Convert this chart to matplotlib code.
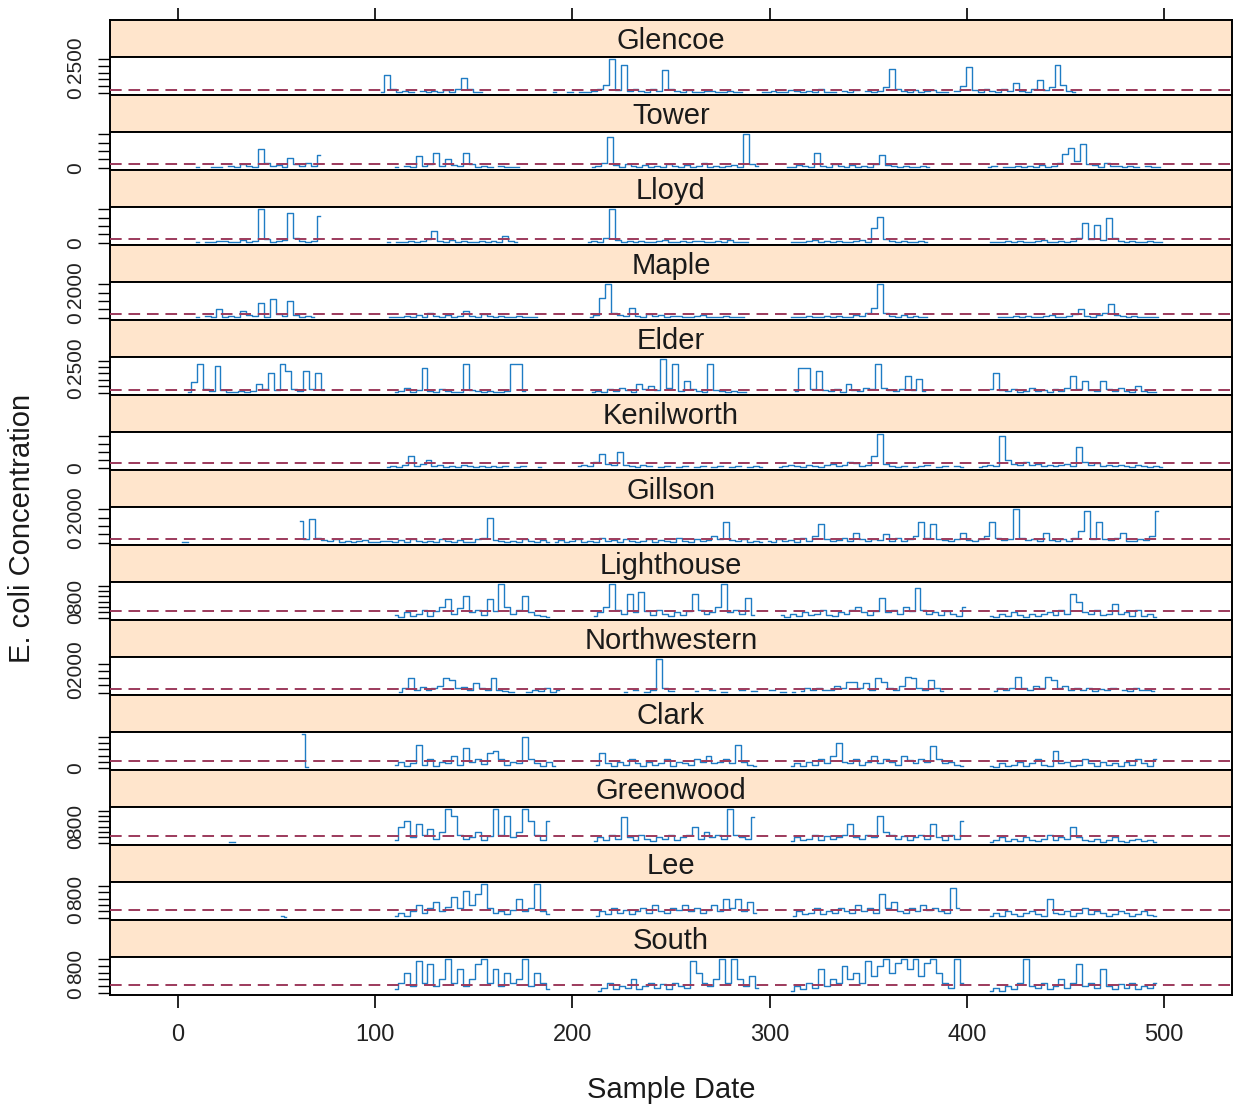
import numpy as np
import matplotlib
matplotlib.use("Agg")
import matplotlib.pyplot as plt

N = None  # missing sample

sites = ["Glencoe", "Tower", "Lloyd", "Maple", "Elder", "Kenilworth", "Gillson",
         "Lighthouse", "Northwestern", "Clark", "Greenwood", "Lee", "South"]

# each site: list of (first sample index, concentrations every 3 samples)
glencoe = [
    (103, [60, 1300, 250, 40, 90, 30, N, 120, 60, 150, 40, 200, 80, 250, 1100, 300, 60, 30]),
    (190, [40, N, N, 60, N, 30, 80, 150, 300, 600, 2500, 200, 2100, 150, 300, 100, 60, 250, 100, 1700,
           300, 150, 80, 200, 60, 40, 150, 90, 30, 60, 120, 40, 30]),
    (296, [80, 30, 150, 60, 40, 200, 90, 30, 120, 60, 250, 80, 40, N, 150, 60, 200, N, 90, 30,
           150, 400, 1800, 250, 100, 60, 180, 40, 90, 200, 60, 30, N, 150, 500, 1950, 200, 80, 300, 120,
           60, 250, 100, 700, 150, 80, 300, 950, 200, 400, 2100, 600, 150, 80]),
]
tower = [
    (9, [40, N, N, 60, 30, N, 100, 50, 200, 80, 60, 1100, 250, 90, 150, 60, 600, 200, 80, 300, 120, 750]),
    (110, [50, N, 120, 40, 700, 90, 200, 850, 100, 500, 150, 80, 900, 200, 60, 100, 40, N, 80, 30, 60, 40]),
    (210, [40, 80, 300, 1850, 150, 60, 200, 90, 40, 150, 60, 100, 30, 200, 80, 60, 150, 40, 90, 250,
           60, 120, 40, 80, 150, 60, 2000, 200, 80]),
    (309, [60, 30, 150, 80, 40, 900, 120, 60, 200, 90, 40, 150, 60, 100, 30, 200, 750, 150, 80, 40,
           120, 60, 30, 90, 40]),
    (411, [40, 80, N, 30, 60, 120, 40, 80, 30, 150, 60, 100, 300, 800, 1200, 400, 1400, 200, 150, 60,
           250, 80, 120, 40, 90, 60, N, 80, 40, 30]),
]
lloyd = [
    (9, [30, N, 60, 40, 120, 80, 30, 60, 150, 40, 90, 2000, 200, 60, 80, 150, 1750, 250, 100, 60, 120, 1600]),
    (106, [40, N, 30, 60, 120, 40, 80, 200, 700, 100, 60, 150, 40, 90, 30, 60, 120, 40, 80, 30, 400, 90, 40]),
    (208, [30, 80, 60, 300, 2000, 150, 60, 100, 40, 120, 60, 30, 90, 150, 40, 60, 100, 30, 80, 120,
           40, 60, 90, 30, 150, 60, 40, 30]),
    (311, [40, 60, 30, 90, 150, 40, 80, 30, 120, 60, 40, 80, 150, 60, 900, 1550, 200, 90, 40, 120, 60, 30, 80, 40]),
    (412, [30, 60, 40, 90, 30, 120, 60, 40, 80, 150, 60, 30, 90, 40, 120, 300, 1150, 200, 1050, 150,
           1500, 250, 80, 40, 120, 60, 30, 80, 40, 30]),
]
maple = [
    (9, [40, N, 80, 30, 500, 60, 120, 40, 400, 150, 80, 900, 60, 1100, 200, 80, 1000, 150, 60, 120, 40]),
    (107, [40, 60, 30, 120, 60, 150, 40, 300, 80, 60, 150, 40, 90, 400, 100, 60, 200, 80, 40, 120,
           60, 30, 90, 40, 60, 30]),
    (209, [60, 150, 1200, 2000, 300, 150, 80, 600, 120, 60, 200, 90, 150, 40, 80, 120, 60, 30, 90, 150,
           40, 60, 30, 80, 40, 60, 30]),
    (311, [30, 60, 40, 90, 30, 60, 120, 40, 80, 30, 60, 150, 80, 300, 600, 2000, 250, 120, 60, 150, 40, 80, 30, 60]),
    (416, [40, 60, 30, 90, 40, 120, 60, 30, 80, 150, 60, 40, 90, 200, 500, 120, 60, 150, 300, 800,
           150, 80, 40, 120, 60, 30, 60, 30]),
]
elder = [
    (5, [60, 800, 2200, 300, 150, 2100, 200, 90, 60, 150, 40, 120, 700, 300, 1500, 200, 2200, 1700, 250, 120,
         1700, 300, 1500, 200]),
    (110, [60, 150, 400, 90, 200, 1900, 150, 60, 300, 120, 80, 60, 2200, 200, 100, 60, 150, 80, 40, 120,
           2200, 2200, 150]),
    (210, [80, 150, 60, 300, 120, 400, 200, 90, 700, 300, 500, 200, 2600, 400, 2200, 150, 900, 300, 120, 60,
           2200, 200, 150, 80, 120, 60, 40]),
    (313, [150, 1900, 1900, 300, 1700, 200, 120, 300, 80, 700, 200, 150, 400, 300, 2200, 400, 200, 150, 300, 1300,
           200, 1100, 150]),
    (412, [300, 1500, 200, 120, 250, 80, 150, 400, 120, 200, 90, 300, 150, 400, 1300, 300, 900, 200, 150, 900,
           250, 120, 400, 150, 80, 500, 120, 60, 40]),
]
kenilworth = [
    (106, [40, 80, 30, 120, 600, 90, 200, 400, 60, 150, 30, 80, 40, 120, 60, 30, 90, 40, 60, 30,
           80, N, 40, 60, N, N, 30]),
    (203, [60, 150, 80, 300, 700, 200, 120, 800, 150, 80, 40, 120, 60, N, 40, 80, N, 30, 60, N,
           40, 90, N, 30, 60, N, 40, 80, N, 30, 60, 40]),
    (305, [40, 80, 120, 60, 30, 150, 90, 40, 120, 200, 60, 150, 300, 250, 80, 120, 600, 1700, 200, 90,
           40, 60, N, 30, 80, 150, N, 40, 90, N, 60, 30]),
    (406, [40, 80, 150, 60, 1600, 400, 200, 150, 300, 120, 200, 90, 150, 60, 120, 200, 80, 1050, 300, 150,
           250, 90, 120, 60, 150, 80, 40, 120, 60, 30, 80, 40]),
]
gillson = [
    (2, [60, 50]),
    (62, [1300, 200, 1400, 300, 150, 80, 200, 60, 120, 40, 90, 150, 60, 30, 120, 80, 40, 150, 60, 200,
          90, 40, 120, 60, 250, 80, 40, 150, 60, 30, 200, 300, 1500, 150, 80, 40, 120, 60, 200, 90,
          40, 150, 60]),
    (191, [60, 150, 40, 90, 200, 60, 120, 40, 300, 80, 150, 60, 250, 90, 40, 120, 200, 60, 150, 80,
           40, 300, 120, 60, 200, 90, 150, 400, 200, 1250, 150, 80, 200, 60, 120, 40]),
    (299, [100, 60, 200, 80, 150, 40, 300, 120, 400, 1100, 200, 90, 150, 300, 120, 600, 200, 80, 250, 150,
           500, 120, 300, 90, 200, 400, 1250, 300, 1100, 200, 150, 80, 250, 600, 150, 90, 200, 400, 1250, 300,
           150, 250, 2000, 300, 150, 200, 90, 600, 150, 80, 200, 120, 300, 700, 1900, 250, 1250, 200, 150, 300,
           600, 120, 90, 200, 150, 400, 1900]),
]
lighthouse = [
    (110, [100, 40, 200, 60, 150, 300, 80, 250, 400, 700, 150, 350, 800, 200, 300, 100, 700, 250, 1250, 400,
           150, 300, 800, 200, 100, 60, 30]),
    (211, [60, 200, 400, 1250, 300, 150, 900, 200, 950, 250, 100, 300, 150, 60, 200, 100, 250, 900, 300, 150,
           200, 400, 1250, 200, 300, 150, 750, 100]),
    (306, [100, 40, 150, 60, 200, 90, 150, 300, 100, 60, 200, 150, 300, 400, 200, 100, 250, 750, 200, 300,
           150, 400, 250, 1100, 300, 150, 200, 100, 250, 150, 60, 400]),
    (412, [80, 30, 150, 60, 200, 90, 40, 150, 60, 120, 200, 90, 300, 150, 900, 600, 200, 150, 300, 100,
           150, 500, 120, 200, 80, 300, 60, 150, 40]),
]
northwestern = [
    (112, [60, 300, 1000, 200, 400, 150, 300, 450, 1000, 850, 300, 400, 200, 700, 300, 150, 1000, 200, 100, 60,
           N, N, 60, 200, 100, 300, 80, 150]),
    (226, [60, N, 150, N, 80, 200, 2300, 300, 100, N]),
    (262, [100, N, N, 150, N, 60, N, N, 200, N, 100, N, N, 150, N, 80, N, 60]),
    (316, [100, 300, 150, 350, 200, 150, 450, 300, 750, 750, 350, 700, 200, 1000, 750, 300, 200, 450, 1100, 1000,
           300, 200, 850, 300, 100]),
    (414, [100, 300, 150, 350, 1050, 300, 200, 450, 300, 1100, 900, 350, 450, 200, 300, 150, 350, 100, 250, 150,
           300, N, 200, 100, 300, 150, 200, 100]),
]
clark = [
    (63, [1100, 30]),
    (110, [80, 200, 40, 150, 750, 100, 300, 60, 200, 150, 400, 100, 650, 200, 300, 120, 500, 550, 300, 100,
           200, 150, 1000, 300, 150, 60, 200, 40]),
    (212, [100, 500, 150, 60, 200, 100, 300, 150, 60, 200, 100, 150, 300, 60, 200, 150, 100, 300, 200, 400,
           150, 200, 300, 150, 750, 200, 100, 60]),
    (311, [60, 150, 40, 200, 100, 300, 150, 400, 800, 200, 150, 300, 100, 200, 400, 150, 300, 200, 100, 400,
           250, 150, 300, 200, 700, 300, 150, 200, 100, 60]),
    (412, [60, 30, 150, 40, 100, 200, 60, 150, 300, 100, 40, 550, 150, 200, 60, 100, 300, 150, 60, 200,
           100, 150, 60, 200, 100, 300, 150, 60, 300]),
]
greenwood = [
    (26, [10, 10]),
    (110, [100, 600, 800, 200, 700, 300, 500, 150, 400, 1250, 1000, 300, 150, 200, 400, 100, 250, 1250, 300, 1000,
           200, 400, 1250, 800, 300, 100, 800]),
    (211, [50, 200, 100, 300, 150, 950, 200, 100, 300, 150, 60, 200, 150, 300, 100, 200, 300, 600, 150, 400,
           200, 300, 150, 1250, 300, 200, 150, 950]),
    (311, [60, 200, 100, 150, 300, 100, 250, 150, 200, 300, 700, 200, 150, 300, 200, 1000, 400, 300, 150, 250,
           100, 200, 300, 150, 700, 200, 100, 300, 150, 800]),
    (412, [40, 100, 200, 60, 150, 80, 200, 100, 60, 150, 300, 100, 200, 150, 600, 200, 100, 60, 150, 40,
           100, 200, 60, 30, 100, 150, 60, 100, 40]),
]
lee = [
    (52, [60, 30]),
    (110, [60, 150, 40, 200, 400, 150, 300, 500, 200, 350, 650, 300, 850, 400, 750, 1050, 300, 150, 200, 100,
           250, 600, 200, 300, 1050, 200, 100]),
    (212, [60, 200, 100, 300, 150, 250, 100, 200, 300, 150, 400, 200, 150, 300, 250, 400, 200, 300, 150, 250,
           400, 200, 600, 300, 600, 200, 500, 150]),
    (312, [60, 200, 100, 150, 300, 100, 200, 150, 300, 200, 150, 400, 200, 300, 150, 750, 300, 500, 200, 150,
           300, 200, 400, 250, 300, 200, 150, 950, 300]),
    (412, [40, 150, 60, 200, 100, 60, 150, 200, 100, 60, 600, 150, 100, 200, 60, 150, 300, 100, 200, 150,
           60, 100, 200, 150, 60, 100, 200, 80, 40]),
]
south = [
    (110, [100, 300, 600, 200, 950, 300, 850, 200, 400, 1000, 300, 700, 200, 400, 850, 1000, 300, 700, 200, 600,
           300, 400, 1000, 200, 600, 300, 100]),
    (213, [60, 150, 300, 100, 200, 150, 400, 100, 200, 300, 150, 250, 100, 300, 200, 150, 950, 600, 300, 200,
           400, 1000, 300, 1000, 400, 200, 500, 150]),
    (311, [60, 200, 100, 300, 150, 700, 200, 400, 300, 800, 400, 600, 300, 950, 500, 800, 1000, 600, 900, 1000,
           700, 1000, 500, 900, 1000, 600, 300, 150, 1000, 300]),
    (412, [60, 150, 40, 200, 100, 300, 1000, 200, 150, 300, 100, 200, 400, 150, 300, 850, 200, 300, 150, 700,
           200, 100, 250, 150, 300, 100, 200, 150, 300]),
]

series = [glencoe, tower, lloyd, maple, elder, kenilworth, gillson,
          lighthouse, northwestern, clark, greenwood, lee, south]
tick_steps = [500, 500, 500, 500, 500, 400, 500, 200, 500, 200, 200, 200, 200]
shown_labels = [["0", "2500"], ["0"], ["0"], ["0", "2000"], ["0", "2500"], ["0"], ["0", "2000"],
                ["0", "800"], ["0", "2000"], ["0"], ["0", "800"], ["0", "800"], ["0", "800"]]
x_ticks = [0, 100, 200, 300, 400, 500]
standard = 235  # dashed reference level
sample_step = 3

plt.rcParams['font.family'] = ['Liberation Sans', 'DejaVu Sans']

W, H = 1233, 1110
fig = plt.figure(figsize=(W / 100, H / 100), dpi=100)
left_px, right_px, top_px = 110, 1232, 20
strip_h, panel_h = 37, 38
xlim = (-34.5, 534.5)
line_col = '#1f7cc4'
dash_col = '#9c3a5c'
strip_col = '#ffe5cc'

for i, (name, segs) in enumerate(zip(sites, series)):
    y0 = top_px + i * (strip_h + panel_h)
    sax = fig.add_axes([left_px / W, 1 - (y0 + strip_h) / H, (right_px - left_px) / W, strip_h / H])
    dax = fig.add_axes([left_px / W, 1 - (y0 + strip_h + panel_h) / H, (right_px - left_px) / W, panel_h / H])

    # strip
    sax.set_facecolor(strip_col)
    sax.set_xlim(*xlim)
    sax.set_yticks([])
    sax.text(0.5, 0.42, name, transform=sax.transAxes, ha='center', va='center',
             fontsize=21, color='#1a1a1a')
    if i == 0:
        sax.set_xticks(x_ticks)
        sax.tick_params(axis='x', top=True, bottom=False, labeltop=False, labelbottom=False,
                        direction='out', length=9, width=1.2)
    else:
        sax.set_xticks([])

    # data panel
    peak = 0
    for x0, vals in segs:
        y = np.array(vals, dtype=float)
        x = x0 + sample_step * np.arange(len(y))
        dax.plot(x, y, drawstyle='steps-mid', color=line_col, lw=1.0)
        peak = max(peak, np.nanmax(y))
    dax.axhline(standard, color=dash_col, lw=1.4, ls=(0, (6, 3.5)), zorder=3)
    dax.set_xlim(*xlim)
    dax.set_ylim(-0.07 * peak, 1.07 * peak)
    ticks = np.arange(0, peak + 1, tick_steps[i])
    dax.set_yticks(ticks)
    labels = [str(int(t)) if str(int(t)) in shown_labels[i] else '' for t in ticks]
    dax.set_yticklabels(labels, rotation=90, va='center', fontsize=15, color='#222222')
    dax.tick_params(axis='y', direction='out', length=9, width=1.0, pad=9)
    if i == len(sites) - 1:
        dax.set_xticks(x_ticks)
        dax.set_xticklabels([str(t) for t in x_ticks], fontsize=17, color='#222222')
        dax.tick_params(axis='x', direction='out', length=9, width=1.2, pad=12)
    else:
        dax.set_xticks([])

    for ax in (sax, dax):
        for sp in ax.spines.values():
            sp.set_linewidth(1.4)
            sp.set_color('black')

fig.text(671 / W, 1 - 1090 / H, 'Sample Date', ha='center', va='center', fontsize=21, color='#1a1a1a')
fig.text(22 / W, 1 - 528 / H, 'E. coli Concentration', ha='center', va='center',
         rotation=90, fontsize=21, color='#1a1a1a')

fig.savefig('out.png', dpi=100)
